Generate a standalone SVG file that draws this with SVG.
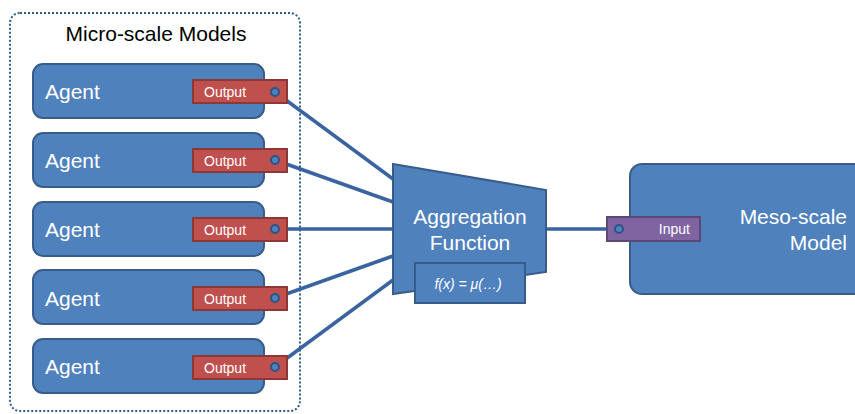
<svg xmlns="http://www.w3.org/2000/svg" width="855" height="414" viewBox="0 0 855 414">
<style>
  .agent { fill: #4F81BD; stroke: #385D8A; stroke-width: 2; }
  .out { fill: #C0504D; stroke: #8C3836; stroke-width: 2; }
  .inp { fill: #8064A2; stroke: #5C4776; stroke-width: 2; }
  .dot { fill: #4F81BD; stroke: #2C5484; stroke-width: 2; }
  .conn { stroke: #3A64A0; stroke-width: 3.5; fill: none; }
  .wt { fill: #FFFFFF; font-family: "Liberation Sans", Calibri, Arial, sans-serif; }
  .big { font-size: 21px; }
  .small { font-size: 14px; }
</style>
<rect id="container" x="10" y="13" width="290" height="398" rx="10" fill="none" stroke="#2E5C8F" stroke-width="2" stroke-dasharray="2 2"/>
<text x="156" y="41" text-anchor="middle" font-family="'Liberation Sans', Arial, sans-serif" font-size="21" fill="#000">Micro-scale Models</text>

<g id="connectors">
  <line class="conn" x1="275" y1="92" x2="393" y2="179"/>
  <line class="conn" x1="275" y1="160" x2="393" y2="202"/>
  <line class="conn" x1="275" y1="229" x2="393" y2="229"/>
  <line class="conn" x1="275" y1="298" x2="393" y2="256"/>
  <line class="conn" x1="275" y1="367" x2="393" y2="280"/>
  <line class="conn" x1="546" y1="229" x2="619" y2="229"/>
</g>

<g id="agent1">
  <rect class="agent" x="33" y="64" width="231" height="54" rx="10"/>
  <text class="wt big" x="45" y="99">Agent</text>
  <rect class="out" x="193" y="80" width="94" height="23"/>
  <text class="wt small" x="204" y="97">Output</text>
  <circle class="dot" cx="275" cy="92" r="4"/>
</g>
<g id="agent2">
  <rect class="agent" x="33" y="133" width="231" height="54" rx="10"/>
  <text class="wt big" x="45" y="168">Agent</text>
  <rect class="out" x="193" y="149" width="94" height="23"/>
  <text class="wt small" x="204" y="166">Output</text>
  <circle class="dot" cx="275" cy="160" r="4"/>
</g>
<g id="agent3">
  <rect class="agent" x="33" y="202" width="231" height="54" rx="10"/>
  <text class="wt big" x="45" y="237">Agent</text>
  <rect class="out" x="193" y="218" width="94" height="23"/>
  <text class="wt small" x="204" y="235">Output</text>
  <circle class="dot" cx="275" cy="229" r="4"/>
</g>
<g id="agent4">
  <rect class="agent" x="33" y="270" width="231" height="54" rx="10"/>
  <text class="wt big" x="45" y="306">Agent</text>
  <rect class="out" x="193" y="287" width="94" height="23"/>
  <text class="wt small" x="204" y="304">Output</text>
  <circle class="dot" cx="275" cy="298" r="4"/>
</g>
<g id="agent5">
  <rect class="agent" x="33" y="339" width="231" height="54" rx="10"/>
  <text class="wt big" x="45" y="374">Agent</text>
  <rect class="out" x="193" y="356" width="94" height="23"/>
  <text class="wt small" x="204" y="373">Output</text>
  <circle class="dot" cx="275" cy="367" r="4"/>
</g>

<g id="aggregation">
  <polygon class="agent" points="393,164 546,190 546,272 393,294"/>
  <text class="wt" x="470" y="224" text-anchor="middle" font-size="21">Aggregation</text>
  <text class="wt" x="470" y="250" text-anchor="middle" font-size="21">Function</text>
  <rect class="agent" x="415" y="263" width="110" height="40"/>
  <text class="wt" x="468" y="289" text-anchor="middle" font-size="14" font-style="italic">f(x) = μ(…)</text>
</g>

<g id="meso">
  <rect class="agent" x="630" y="164" width="240" height="130" rx="12"/>
  <text class="wt" x="847" y="224" text-anchor="end" font-size="21">Meso-scale</text>
  <text class="wt" x="847" y="250" text-anchor="end" font-size="21">Model</text>
  <rect class="inp" x="607" y="217" width="93" height="24"/>
  <text class="wt small" x="690" y="234" text-anchor="end">Input</text>
  <circle class="dot" cx="619" cy="229" r="4"/>
</g>
</svg>
